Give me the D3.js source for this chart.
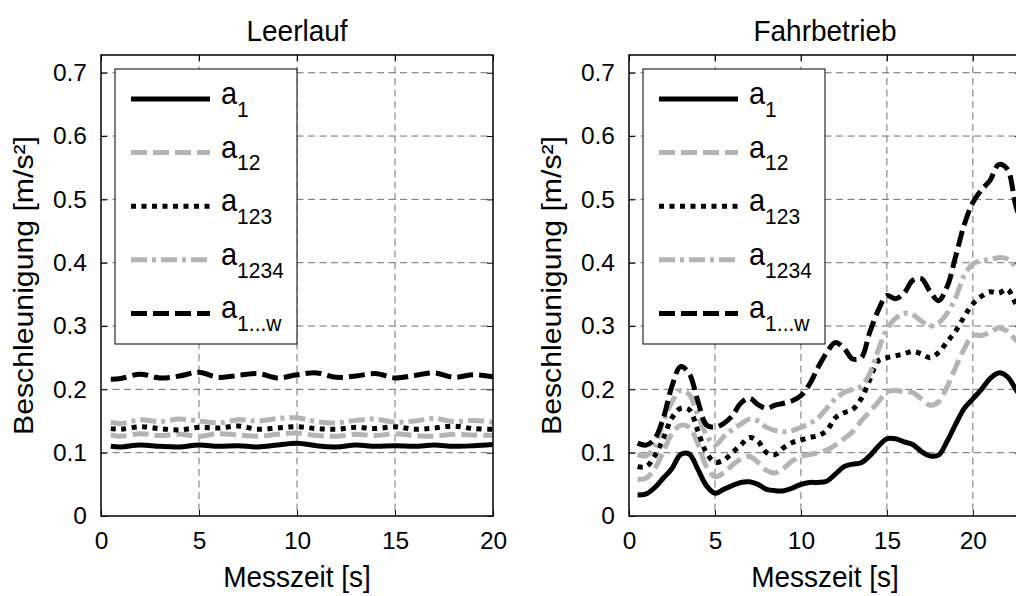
<!DOCTYPE html>
<html>
<head>
<meta charset="utf-8">
<script src="https://cdn.jsdelivr.net/npm/d3@7"></script>
<style>
body { margin: 0; background: #fff; }
text { font-family: "Liberation Sans", Arial, sans-serif; fill: #000; }
</style>
</head>
<body>
<div id="chart"></div>
<script>
// Leerlauf (idle), sampled each second
const leerTime = [0.5, 1, 2, 3, 4, 5, 6, 7, 8, 9, 10, 11, 12, 13, 14, 15, 16, 17, 18, 19, 20];
const leerA1    = [0.110, 0.109, 0.112, 0.110, 0.109, 0.112, 0.110, 0.111, 0.109, 0.112, 0.115, 0.111, 0.109, 0.112, 0.110, 0.111, 0.110, 0.112, 0.110, 0.111, 0.113];
const leerA12   = [0.128, 0.126, 0.130, 0.127, 0.129, 0.126, 0.130, 0.128, 0.126, 0.129, 0.131, 0.127, 0.126, 0.129, 0.127, 0.130, 0.127, 0.126, 0.129, 0.128, 0.127];
const leerA123  = [0.138, 0.137, 0.141, 0.138, 0.136, 0.140, 0.139, 0.142, 0.137, 0.139, 0.141, 0.138, 0.137, 0.140, 0.138, 0.141, 0.137, 0.139, 0.142, 0.138, 0.137];
const leerA1234 = [0.148, 0.146, 0.152, 0.149, 0.153, 0.150, 0.147, 0.152, 0.150, 0.154, 0.155, 0.149, 0.147, 0.151, 0.153, 0.148, 0.150, 0.154, 0.149, 0.151, 0.148];
const leerA1w   = [0.216, 0.217, 0.224, 0.218, 0.221, 0.227, 0.219, 0.222, 0.225, 0.218, 0.223, 0.226, 0.219, 0.221, 0.225, 0.218, 0.222, 0.226, 0.219, 0.223, 0.220];

// Fahrbetrieb (driving), sampled each half second
const fahrTime = [0.5, 1, 1.5, 2, 2.5, 3, 3.5, 4, 4.5, 5, 5.5, 6, 6.5, 7, 7.5, 8, 8.5, 9, 9.5, 10, 10.5, 11, 11.5,
    12, 12.5, 13, 13.5, 14, 14.5, 15, 15.5, 16, 16.5, 17, 17.5, 18, 18.5, 19, 19.5, 20, 20.5, 21, 21.5, 22, 22.5, 23];
const fahrA1 = [0.033, 0.035, 0.045, 0.060, 0.075, 0.097, 0.098, 0.074, 0.048, 0.036, 0.042, 0.048, 0.053, 0.054, 0.050, 0.042,
    0.040, 0.040, 0.044, 0.050, 0.053, 0.053, 0.055, 0.066, 0.078, 0.082, 0.084, 0.095, 0.110, 0.122, 0.122, 0.117,
    0.113, 0.102, 0.095, 0.096, 0.118, 0.145, 0.170, 0.185, 0.200, 0.217, 0.226, 0.220, 0.200, 0.180];
const fahrA12 = [0.058, 0.060, 0.075, 0.102, 0.130, 0.143, 0.140, 0.115, 0.078, 0.062, 0.068, 0.080, 0.090, 0.094, 0.085, 0.072,
    0.068, 0.076, 0.087, 0.094, 0.097, 0.100, 0.104, 0.112, 0.122, 0.133, 0.150, 0.165, 0.180, 0.196, 0.198, 0.196,
    0.195, 0.185, 0.175, 0.180, 0.204, 0.235, 0.264, 0.285, 0.285, 0.290, 0.297, 0.292, 0.278, 0.265];
const fahrA123 = [0.078, 0.078, 0.095, 0.123, 0.155, 0.170, 0.168, 0.135, 0.100, 0.085, 0.088, 0.100, 0.112, 0.124, 0.118, 0.100,
    0.097, 0.108, 0.116, 0.120, 0.124, 0.127, 0.135, 0.155, 0.163, 0.168, 0.185, 0.215, 0.245, 0.250, 0.253, 0.256,
    0.260, 0.256, 0.250, 0.258, 0.275, 0.292, 0.315, 0.335, 0.347, 0.354, 0.352, 0.358, 0.335, 0.310];
const fahrA1234 = [0.097, 0.095, 0.110, 0.150, 0.180, 0.198, 0.192, 0.160, 0.128, 0.112, 0.125, 0.136, 0.145, 0.153, 0.150, 0.140,
    0.135, 0.133, 0.135, 0.140, 0.146, 0.155, 0.170, 0.185, 0.195, 0.200, 0.205, 0.225, 0.262, 0.295, 0.312, 0.320,
    0.318, 0.308, 0.300, 0.305, 0.320, 0.345, 0.380, 0.398, 0.403, 0.405, 0.408, 0.406, 0.394, 0.380];
const fahrA1w = [0.115, 0.112, 0.122, 0.155, 0.205, 0.236, 0.225, 0.182, 0.144, 0.140, 0.146, 0.158, 0.178, 0.186, 0.176, 0.170,
    0.175, 0.178, 0.182, 0.190, 0.208, 0.235, 0.258, 0.274, 0.265, 0.248, 0.250, 0.290, 0.325, 0.348, 0.343, 0.352,
    0.372, 0.375, 0.355, 0.340, 0.362, 0.410, 0.460, 0.495, 0.515, 0.530, 0.555, 0.548, 0.490, 0.450];

const legendSubs = ["1", "12", "123", "1234", "1...w"];
const xTicks = [0, 5, 10, 15, 20];
const yTicks = [0, 0.1, 0.2, 0.3, 0.4, 0.5, 0.6, 0.7];
const yTickLabels = ["0", "0.1", "0.2", "0.3", "0.4", "0.5", "0.6", "0.7"];
const titles = ["Leerlauf", "Fahrbetrieb"];

// line styles, in legend order
const styles = [
    { color: "#000000", dash: null },
    { color: "#b4b4b4", dash: "16,6" },
    { color: "#000000", dash: "5,5.5" },
    { color: "#b4b4b4", dash: "16,5,4,5" },
    { color: "#000000", dash: "16,6" }
];

// the reference text is a little taller than wide
const stretch = 1.08;

const svg = d3.select("#chart").append("svg").attr("width", 1016).attr("height", 596);

const plotTop = 55, plotBottom = 516;
const yScale = d3.scaleLinear().domain([0, 0.728]).range([plotBottom, plotTop]);

function label(g, x, y, size, txt, rotate) {
    return g.append("text")
        .attr("transform", rotate
            ? `translate(${x},${y}) rotate(-90) scale(${stretch},1)`
            : `translate(${x},${y}) scale(1,${stretch})`)
        .attr("text-anchor", "middle").attr("font-size", size)
        .text(txt);
}

function drawPanel(idx, left, xmax, time, series) {
    const right = left + 392;
    const xScale = d3.scaleLinear().domain([0, xmax]).range([left, right]);
    const g = svg.append("g");

    g.append("clipPath").attr("id", "clip" + idx)
        .append("rect").attr("x", left).attr("y", plotTop).attr("width", right - left).attr("height", plotBottom - plotTop);

    // grid
    g.selectAll("line.gx")
        .data(xTicks.filter(d => d > 0 && d < xmax))
        .join("line")
        .attr("x1", d => xScale(d)).attr("x2", d => xScale(d))
        .attr("y1", plotTop).attr("y2", plotBottom)
        .attr("stroke", "#707070").attr("stroke-width", 1).attr("stroke-dasharray", "7,4.5");
    g.selectAll("line.gy")
        .data(yTicks.filter(d => d > 0))
        .join("line")
        .attr("x1", left).attr("x2", right)
        .attr("y1", d => yScale(d)).attr("y2", d => yScale(d))
        .attr("stroke", "#707070").attr("stroke-width", 1).attr("stroke-dasharray", "7,4.5");

    // data lines
    const line = d3.line()
        .x((d, i) => xScale(time[i]))
        .y(d => yScale(d))
        .curve(d3.curveCatmullRom);

    series.forEach((s, i) => {
        g.append("path")
            .datum(s)
            .attr("clip-path", `url(#clip${idx})`)
            .attr("fill", "none")
            .attr("stroke", styles[i].color)
            .attr("stroke-width", 5)
            .attr("stroke-linejoin", "round")
            .attr("stroke-dasharray", styles[i].dash)
            .attr("d", line);
    });

    // axes with inward ticks
    const xb = d3.axisBottom(xScale).tickValues(xTicks).tickSizeInner(-6).tickSizeOuter(0).tickPadding(16);
    const xt = d3.axisTop(xScale).tickValues(xTicks).tickSizeInner(-6).tickSizeOuter(0).tickFormat("");
    const yl = d3.axisLeft(yScale).tickValues(yTicks).tickSizeInner(-6).tickSizeOuter(0).tickPadding(14)
        .tickFormat((d, i) => yTickLabels[i]);
    const yr = d3.axisRight(yScale).tickValues(yTicks).tickSizeInner(-6).tickSizeOuter(0).tickFormat("");

    const axes = [
        g.append("g").attr("transform", `translate(0,${plotBottom})`).call(xb),
        g.append("g").attr("transform", `translate(0,${plotTop})`).call(xt),
        g.append("g").attr("transform", `translate(${left},0)`).call(yl),
        g.append("g").attr("transform", `translate(${right},0)`).call(yr)
    ];
    axes.forEach(a => {
        a.select(".domain").remove();
        a.selectAll(".tick line").attr("stroke", "#000").attr("stroke-width", 1);
        a.selectAll("text").attr("font-size", 24.5).attr("fill", "#000")
            .style("font-family", '"Liberation Sans", Arial, sans-serif');
    });

    g.append("rect")
        .attr("x", left).attr("y", plotTop).attr("width", right - left).attr("height", plotBottom - plotTop)
        .attr("fill", "none").attr("stroke", "#000").attr("stroke-width", 1.5);

    // legend
    const lx = left + 14, ly = 69;
    g.append("rect")
        .attr("x", lx).attr("y", ly).attr("width", 182).attr("height", 275)
        .attr("fill", "#fff").attr("stroke", "#000").attr("stroke-width", 1);
    legendSubs.forEach((sub, i) => {
        const yy = 99 + i * 53.6;
        g.append("line")
            .attr("x1", lx + 16).attr("x2", lx + 95)
            .attr("y1", yy).attr("y2", yy)
            .attr("stroke", styles[i].color)
            .attr("stroke-width", 5)
            .attr("stroke-dasharray", styles[i].dash);
        const t = g.append("text")
            .attr("transform", `translate(${lx + 106},${yy + 5}) scale(1,${stretch})`)
            .attr("font-size", 29);
        t.append("tspan").text("a");
        t.append("tspan").attr("font-size", 21).attr("dy", 11.8).text(sub);
    });

    // titles and axis labels
    label(g, (left + right) / 2, 41, 28, titles[idx], false);
    label(g, (left + right) / 2, 587, 28, "Messzeit [s]", false);
    label(g, left - 68, (plotTop + plotBottom) / 2, 28, "Beschleunigung [m/s²]", true);
}

drawPanel(0, 101, 20, leerTime, [leerA1, leerA12, leerA123, leerA1234, leerA1w]);
drawPanel(1, 629, 22.8, fahrTime, [fahrA1, fahrA12, fahrA123, fahrA1234, fahrA1w]);
</script>
</body>
</html>
